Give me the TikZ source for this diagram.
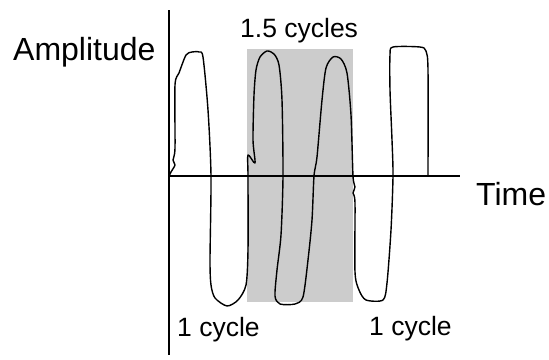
\documentclass[tikz,border=0pt]{standalone}
\usepackage{fontspec}
\setmainfont{Liberation Sans}
\begin{document}
\begin{tikzpicture}[x=1pt,y=-1pt,
  axis/.style={line width=1.6pt,black},
  wave/.style={line width=1.4pt,black,line join=round,line cap=round},
  band/.style={fill=black!20,draw=none},
  biglabel/.style={inner sep=0pt,anchor=base west,font=\fontsize{32}{38}\selectfont},
  smalllabel/.style={inner sep=0pt,anchor=base west,font=\fontsize{26.5}{32}\selectfont}]
  \useasboundingbox (0,0) rectangle (549,359);

  % shaded interval holding one and a half cycles
  \fill[band] (247,49) rectangle (353,302);

  % axes
  \coordinate (origin) at (169,176);
  \coordinate (ytop) at (169,10);
  \coordinate (ybot) at (169,355);
  \coordinate (xend) at (460,176);
  \draw[axis] (ytop) -- (ybot);
  \draw[axis] (origin) -- (xend);

  % hand-drawn waveform
  \draw[wave] plot[smooth,tension=0.45] coordinates {
    (169,176) (171,172) (175,165) (173,160) (175,148) (175,85) (179,73)
    (186,55) (192,52) (199,52) (203,57) (208,110) (211,176)
    (210,260) (211,285) (215,298) (227,306) (238,300) (246,285) (248,250) (248,176)
    (248,155) (255,163) (253,140) (254,95) (256,70) (260,57) (267,51) (274,54)
    (279,65) (282,100) (283,176)
    (281,235) (277,270) (275,296) (280,304) (295,304) (303,297) (308,260) (312,220) (314,176)
    (317,157) (322,100) (326,68) (333,57) (341,59) (347,73) (351,115) (353,176)
    (355,187) (353,193) (355,203) (355,272) (359,290) (366,300) (383,300) (387,283)
    (391,230) (393,176)
    (392,140) (390,90) (390,55) (393,47) (420,47) (426,51) (428,70) (428,176)};

  % labels
  \node[biglabel] (amp) at (13,60) {Amplitude};
  \node[biglabel] (time) at (476,205) {Time};
  \node[smalllabel] (half) at (240,37) {1.5 cycles};
  \node[smalllabel] (leftcycle) at (177,336) {1 cycle};
  \node[smalllabel] (rightcycle) at (369,335) {1 cycle};
\end{tikzpicture}
\end{document}
